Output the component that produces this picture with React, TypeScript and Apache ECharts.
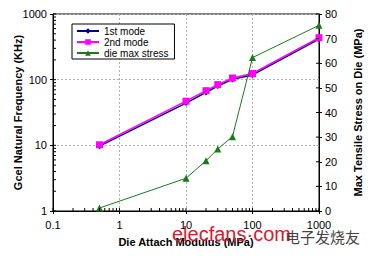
import React, { useEffect, useRef } from "react";
import * as echarts from "echarts";

const xValues = [0.5, 10, 20, 30, 50, 100, 1000];
const mode1 = [9.7, 44, 64, 80, 101, 118, 415];
const mode2 = [10.2, 47, 68, 84, 106, 124, 435];
const dieStress = [1.2, 13.3, 20.4, 25.2, 30.2, 62.3, 75.4];
const rightTicks = [0, 10, 20, 30, 40, 50, 60, 70, 80];
const xDecades = [0.1, 1, 10, 100];
const yDecades = [1, 10, 100];

const FONT = "Liberation Sans, Arial, sans-serif";

function buildLeftTicks() {
  const out: number[][] = [];
  for (const d of xDecades) {
    for (let k = 1; k <= 9; k++) out.push([d * k, 1, 3, 0]);
  }
  out.push([1000, 1, 3, 0]);
  for (const d of yDecades) {
    for (let k = 1; k <= 9; k++) out.push([0.1, d * k, 3, 1]);
  }
  out.push([0.1, 1000, 3, 1]);
  return out;
}

export default function App() {
  const ref = useRef<HTMLDivElement>(null);
  useEffect(() => {
    if (!ref.current) return;
    const chart = echarts.init(ref.current, null, { renderer: "svg" });
    const tickData = buildLeftTicks();
    const rightTickData = rightTicks.map((v) => [1000, v, 3, 2]);
    const renderTick = (params: any, api: any) => {
      const p = api.coord([api.value(0), api.value(1)]);
      const len = api.value(2);
      const dir = api.value(3);
      let x2 = p[0];
      let y2 = p[1];
      if (dir === 0) y2 = p[1] - len;
      else if (dir === 1) x2 = p[0] + len;
      else x2 = p[0] - len;
      return {
        type: "line",
        shape: { x1: p[0], y1: p[1], x2, y2 },
        style: { stroke: "#000", lineWidth: 1 },
        silent: true,
      };
    };
    chart.setOption({
      animation: false,
      backgroundColor: "#fff",
      textStyle: { fontFamily: FONT },
      grid: {
        left: 53,
        right: 57,
        top: 14,
        bottom: 45,
        show: true,
        borderColor: "#000",
        borderWidth: 1,
        backgroundColor: "#fff",
        containLabel: false,
        outerBoundsMode: "none",
      },
      legend: {
        data: ["1st mode", "2nd mode", "die max stress"],
        orient: "vertical",
        left: 72,
        top: 24,
        padding: [2, 6, 1, 4],
        itemGap: 1,
        itemWidth: 22,
        itemHeight: 7,
        borderColor: "#000",
        borderWidth: 1,
        backgroundColor: "#fff",
        textStyle: { fontSize: 10, color: "#000", fontFamily: FONT },
      },
      xAxis: {
        type: "log",
        logBase: 10,
        min: 0.1,
        max: 1000,
        name: "Die Attach Modulus (MPa)",
        nameLocation: "middle",
        nameGap: 25,
        nameMoveOverlap: false,
        nameTextStyle: { fontSize: 11, fontWeight: "bold", color: "#000" },
        axisLine: { lineStyle: { color: "#000", width: 1 } },
        axisTick: { show: true, inside: false, length: 3, lineStyle: { color: "#000" } },
        axisLabel: {
          fontSize: 11,
          color: "#000",
          margin: 8,
          formatter: (v: number) => String(v),
        },
        splitLine: { show: true, lineStyle: { color: "#b0b0b0", type: [2, 2] } },
      },
      yAxis: [
        {
          type: "log",
          logBase: 10,
          min: 1,
          max: 1000,
          name: "Gcel Natural Frequency (KHz)",
          nameLocation: "middle",
          nameGap: 30,
          nameMoveOverlap: false,
          nameTextStyle: { fontSize: 11, fontWeight: "bold", color: "#000" },
          axisLine: { lineStyle: { color: "#000", width: 1 } },
          axisTick: { show: true, inside: false, length: 3, lineStyle: { color: "#000" } },
          axisLabel: {
            fontSize: 11,
            color: "#000",
            margin: 6,
            formatter: (v: number) => String(v),
          },
          splitLine: { show: true, lineStyle: { color: "#b0b0b0", type: [2, 2] } },
        },
        {
          type: "value",
          min: 0,
          max: 80,
          interval: 10,
          position: "right",
          name: "Max Tensile Stress on Die (MPa)",
          nameLocation: "middle",
          nameGap: 33,
          nameRotate: 90,
          nameMoveOverlap: false,
          nameTextStyle: { fontSize: 11, fontWeight: "bold", color: "#000" },
          axisLine: { show: true, lineStyle: { color: "#000", width: 1 } },
          axisTick: { show: true, inside: false, length: 3, lineStyle: { color: "#000" } },
          axisLabel: { fontSize: 11, color: "#000", margin: 6 },
          splitLine: { show: false },
        },
      ],
      series: [
        {
          name: "1st mode",
          type: "line",
          data: xValues.map((x, i) => [x, mode1[i]]),
          yAxisIndex: 0,
          symbol: "diamond",
          symbolSize: 6,
          itemStyle: { color: "#000080" },
          lineStyle: { color: "#000080", width: 1.5 },
          z: 3,
        },
        {
          name: "2nd mode",
          type: "line",
          data: xValues.map((x, i) => [x, mode2[i]]),
          yAxisIndex: 0,
          symbol: "rect",
          symbolSize: 7,
          itemStyle: { color: "#ff00ff" },
          lineStyle: { color: "#ff00ff", width: 1.5 },
          z: 4,
        },
        {
          name: "die max stress",
          type: "line",
          data: xValues.map((x, i) => [x, dieStress[i]]),
          yAxisIndex: 1,
          symbol: "triangle",
          symbolSize: 7,
          itemStyle: { color: "#1a7a1a" },
          lineStyle: { color: "#1a7a1a", width: 1 },
          z: 5,
        },
        {
          type: "custom",
          xAxisIndex: 0,
          yAxisIndex: 0,
          data: tickData,
          encode: { x: 0, y: 1 },
          renderItem: renderTick,
          clip: false,
          silent: true,
          z: 10,
        },
        {
          type: "custom",
          xAxisIndex: 0,
          yAxisIndex: 1,
          data: rightTickData,
          encode: { x: 0, y: 1 },
          renderItem: renderTick,
          clip: false,
          silent: true,
          z: 10,
        },
      ],
      graphic: [
        {
          type: "text",
          left: 172,
          top: 224,
          z: 100,
          style: {
            text: "elecfans·com",
            fill: "#d3202b",
            fontSize: 20,
            fontFamily: FONT,
          },
        },
        {
          type: "text",
          left: 285,
          top: 229,
          z: 100,
          style: {
            text: "电子发烧友",
            fill: "#444",
            fontSize: 15,
            fontFamily: "Noto Sans CJK SC",
          },
        },
      ],
    });
    return () => chart.dispose();
  }, []);
  return (
    <div
      ref={ref}
      style={{ position: "fixed", left: 0, top: 0, width: 376, height: 256 }}
    />
  );
}
